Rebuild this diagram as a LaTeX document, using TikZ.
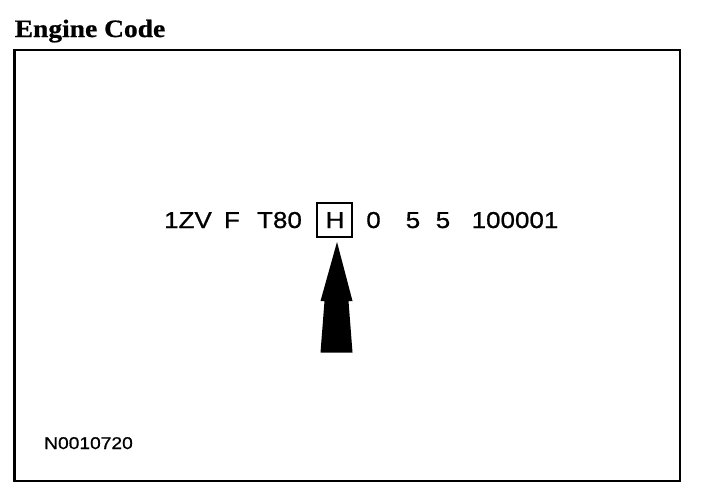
\documentclass[tikz,border=0pt]{standalone}
\usepackage{fontspec}
\newfontfamily\codefont[FakeStretch=1.13,FakeBold=0.8]{Liberation Sans}
\newfontfamily\titlefont[FakeStretch=1.1,FakeBold=0.8]{Liberation Serif}
\begin{document}
\begin{tikzpicture}[x=1pt,y=-1pt,
  code/.style={font=\codefont\fontsize{23}{23}\selectfont,inner sep=0pt,outer sep=0pt,anchor=base},
  frame/.style={draw=black,line width=2.2pt},
  hbox/.style={draw=black,line width=2.2pt,minimum width=35pt,minimum height=34pt,inner sep=0pt}]
\useasboundingbox (0,0) rectangle (704,498);
\node[font=\titlefont\bfseries\fontsize{25}{25}\selectfont,inner sep=0pt,anchor=base] (title) at (90,37) {Engine Code};
\draw[frame] (14.5,50) rectangle (680,481);
\node[code] (t1) at (188,228) {1ZV};
\node[code] (t2) at (232,228) {F};
\node[code] (t3) at (279.5,228) {T80};
\node[hbox] (hb) at (334.5,220) {};
\node[code] (t4) at (335,228) {H};
\node[code] (t5) at (373.5,228) {0};
\node[code] (t6) at (413,228) {5};
\node[code] (t7) at (443,228) {5};
\node[code] (t8) at (515,228) {100001};
\node[font=\codefont\fontsize{17}{17}\selectfont,inner sep=0pt,anchor=base] (ref) at (88.5,449) {N0010720};
\fill[black] (337,242) -- (320.5,301) -- (324.5,301) -- (320.5,352.5) -- (352.5,352.5) -- (348.5,301) -- (352.5,301) -- cycle;
\end{tikzpicture}
\end{document}
